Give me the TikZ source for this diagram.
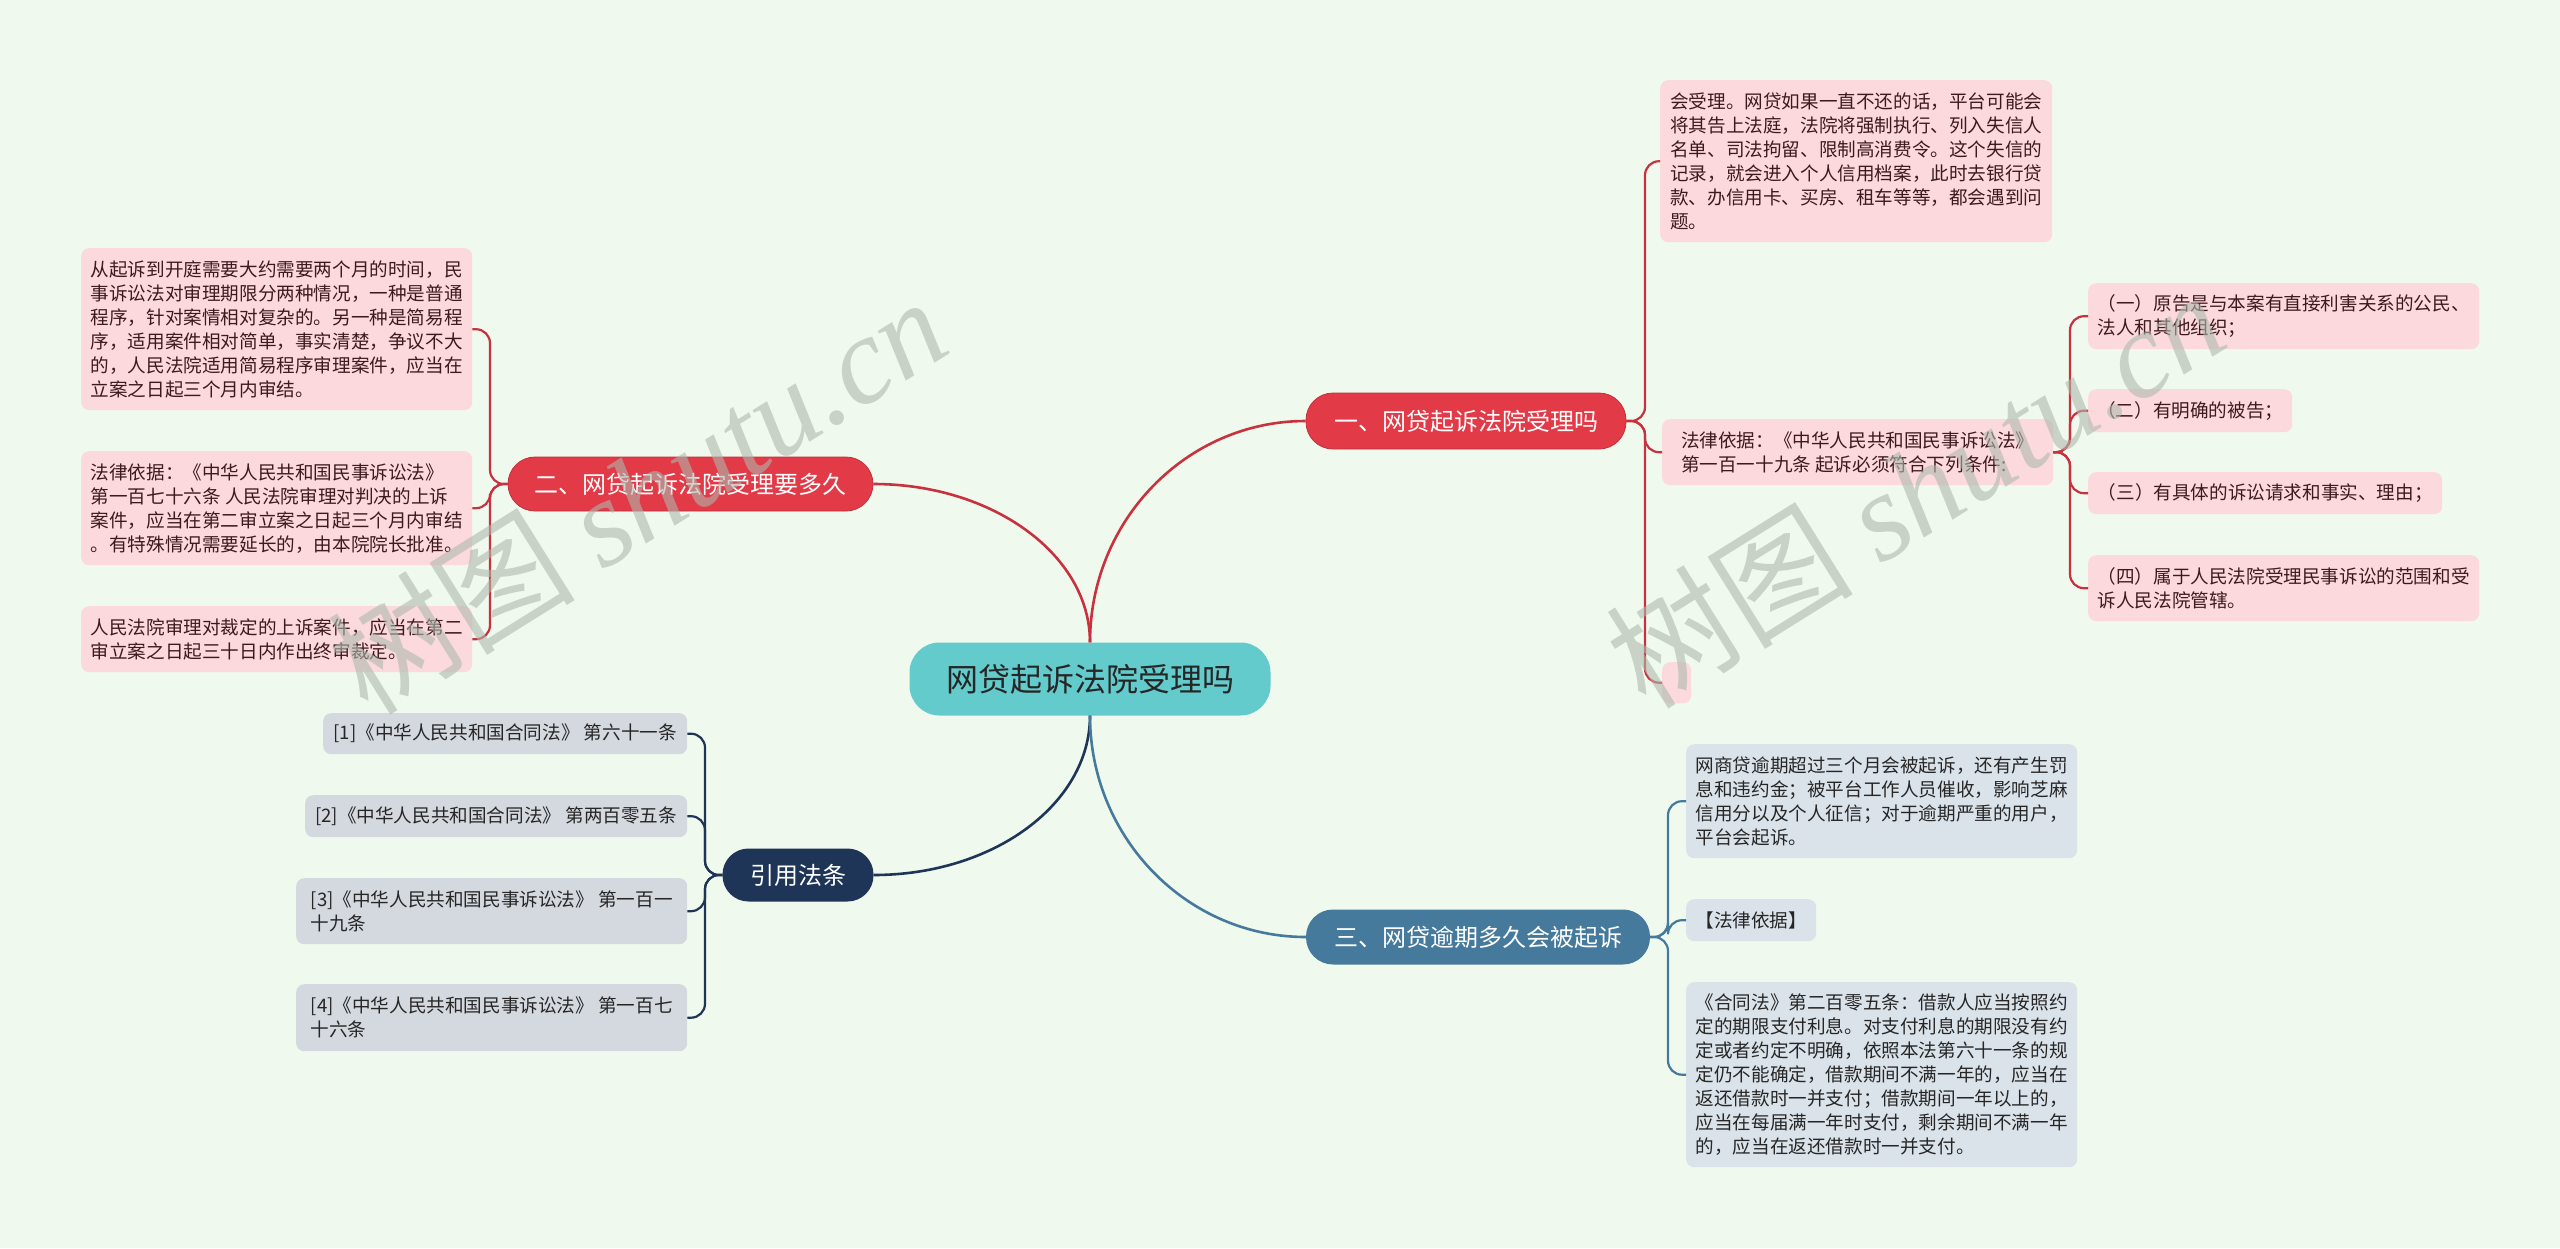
\documentclass[tikz,border=0pt]{standalone}
\usepackage{fontspec}
\setmainfont{Noto Sans CJK SC}
\newfontfamily\wmserif{Liberation Serif}
\usetikzlibrary{calc}
\definecolor{bgc}{HTML}{F0F9EE}
\definecolor{pinkfill}{HTML}{FBD9DD}
\definecolor{pinktext}{HTML}{3F1A1D}
\definecolor{redpill}{HTML}{E23A47}
\definecolor{redline}{HTML}{C8323E}
\definecolor{navyc}{HTML}{1E3557}
\definecolor{steelc}{HTML}{457A9C}
\definecolor{tealc}{HTML}{63CBCB}
\definecolor{grayfill}{HTML}{D4D8DF}
\definecolor{bluegrayfill}{HTML}{DBE3EA}
\definecolor{darktext}{HTML}{262626}
\definecolor{wmc}{HTML}{AEB8AE}
\tikzset{
  leafbox/.style={rectangle, rounded corners=8pt, inner sep=0pt, align=left,
    anchor=north west, font=\fontsize{18.6}{24}\selectfont},
  pinkleaf/.style={leafbox, fill=pinkfill, text=pinktext},
  grayleaf/.style={leafbox, fill=grayfill, text=darktext},
  blueleaf/.style={leafbox, fill=bluegrayfill, text=darktext},
  pillbox/.style={rectangle, inner sep=0pt, text=white, font=\fontsize{24}{28}\selectfont},
  redbranch/.style={pillbox, fill=redpill, draw=redpill!85!black, line width=0.8pt, rounded corners=27pt},
  navybranch/.style={pillbox, fill=navyc, rounded corners=26pt},
  steelbranch/.style={pillbox, fill=steelc, rounded corners=27pt},
  mainline/.style={line width=2.6pt},
  subline/.style={line width=2.2pt, rounded corners=14pt},
  watermark/.style={rotate=32, anchor=base west, text=wmc, opacity=0.6, inner sep=0pt,
    font=\fontsize{124}{124}\selectfont}
}
\begin{document}
\begin{tikzpicture}[x=1pt,y=-1pt]
\useasboundingbox (0,0) rectangle (2560,1248);
\fill[bgc] (0,0) rectangle (2560,1248);

% root
\node[rectangle, fill=tealc, rounded corners=30pt, minimum width=361pt, minimum height=73pt,
  inner sep=0pt, text=darktext, font=\fontsize{32}{36}\selectfont] (root) at (1090,679) {网贷起诉法院受理吗};

% branches
\node[redbranch, minimum width=320pt, minimum height=56pt] (b1) at (1466,421) {一、网贷起诉法院受理吗};
\node[redbranch, minimum width=365pt, minimum height=54pt] (b2) at (690.5,484) {二、网贷起诉法院受理要多久};
\node[navybranch, minimum width=151pt, minimum height=53pt] (cite) at (798,875) {引用法条};
\node[steelbranch, minimum width=344pt, minimum height=55pt] (b3) at (1478,937) {三、网贷逾期多久会被起诉};

% branch 1 leaves
\node[pinkleaf, minimum width=392pt, minimum height=162pt] (c1a) at (1660,80) {会受理。网贷如果一直不还的话，平台可能会\\将其告上法庭，法院将强制执行、列入失信人\\名单、司法拘留、限制高消费令。这个失信的\\记录，就会进入个人信用档案，此时去银行贷\\款、办信用卡、买房、租车等等，都会遇到问\\题。};
\node[pinkleaf, minimum width=391pt, minimum height=66pt] (c1b) at (1662,419) {法律依据：《中华人民共和国民事诉讼法》\\第一百一十九条 起诉必须符合下列条件:};
\node[pinkleaf, minimum width=29pt, minimum height=41pt] (c1c) at (1662,662) {};
\node[pinkleaf, minimum width=391pt, minimum height=66pt] (d1) at (2088,283) {（一）原告是与本案有直接利害关系的公民、\\法人和其他组织；};
\node[pinkleaf, minimum width=204pt, minimum height=43pt] (d2) at (2088,389) {（二）有明确的被告；};
\node[pinkleaf, minimum width=354pt, minimum height=42pt] (d3) at (2088,472) {（三）有具体的诉讼请求和事实、理由；};
\node[pinkleaf, minimum width=391pt, minimum height=66pt] (d4) at (2088,555) {（四）属于人民法院受理民事诉讼的范围和受\\诉人民法院管辖。};

% branch 2 leaves
\node[pinkleaf, minimum width=391pt, minimum height=162pt] (c2a) at (81,248) {从起诉到开庭需要大约需要两个月的时间，民\\事诉讼法对审理期限分两种情况，一种是普通\\程序，针对案情相对复杂的。另一种是简易程\\序，适用案件相对简单，事实清楚，争议不大\\的，人民法院适用简易程序审理案件，应当在\\立案之日起三个月内审结。};
\node[pinkleaf, minimum width=391pt, minimum height=114pt] (c2b) at (81,451) {法律依据：《中华人民共和国民事诉讼法》\\第一百七十六条 人民法院审理对判决的上诉\\案件，应当在第二审立案之日起三个月内审结\\。有特殊情况需要延长的，由本院院长批准。};
\node[pinkleaf, minimum width=391pt, minimum height=66pt] (c2c) at (81,606) {人民法院审理对裁定的上诉案件，应当在第二\\审立案之日起三十日内作出终审裁定。};

% citation leaves
\node[grayleaf, minimum width=364pt, minimum height=41pt] (r1) at (323,713) {[1]《中华人民共和国合同法》 第六十一条};
\node[grayleaf, minimum width=382pt, minimum height=42pt] (r2) at (305,795) {[2]《中华人民共和国合同法》 第两百零五条};
\node[grayleaf, minimum width=391pt, minimum height=66pt] (r3) at (296,878) {[3]《中华人民共和国民事诉讼法》 第一百一\\十九条};
\node[grayleaf, minimum width=391pt, minimum height=67pt] (r4) at (296,984) {[4]《中华人民共和国民事诉讼法》 第一百七\\十六条};

% branch 3 leaves
\node[blueleaf, minimum width=391pt, minimum height=114pt] (c3a) at (1686,744) {网商贷逾期超过三个月会被起诉，还有产生罚\\息和违约金；被平台工作人员催收，影响芝麻\\信用分以及个人征信；对于逾期严重的用户，\\平台会起诉。};
\node[blueleaf, minimum width=130pt, minimum height=42pt] (c3b) at (1686,899) {【法律依据】};
\node[blueleaf, minimum width=391pt, minimum height=185pt] (c3c) at (1686,982) {《合同法》第二百零五条：借款人应当按照约\\定的期限支付利息。对支付利息的期限没有约\\定或者约定不明确，依照本法第六十一条的规\\定仍不能确定，借款期间不满一年的，应当在\\返还借款时一并支付；借款期间一年以上的，\\应当在每届满一年时支付，剩余期间不满一年\\的，应当在返还借款时一并支付。};

% main connectors
\draw[mainline, redline] (root.north) .. controls +(0,-122) and +(-119,0) .. (b1.west);
\draw[mainline, redline] (root.north) .. controls +(0,-87) and +(120,0) .. (b2.east);
\draw[mainline, navyc] (root.south) .. controls +(0,88) and +(120,0) .. (cite.east);
\draw[mainline, steelc] (root.south) .. controls +(0,122) and +(-119,0) .. (b3.west);

% junctions
\coordinate (j1) at (1645,421);
\coordinate (j2) at (490,484);
\coordinate (j3) at (705,875);
\coordinate (j4) at (1668,937);
\coordinate (j5) at (2070,452);

\foreach \c in {c1a,c1b,c1c} \draw[subline, redline] (b1.east) -- (j1) |- (\c.west);
\foreach \c in {d1,d2,d3,d4} \draw[subline, redline] (c1b.east) -- (j5) |- (\c.west);
\foreach \c in {c2a,c2b,c2c} \draw[subline, redline] (b2.west) -- (j2) |- (\c.east);
\foreach \c in {r1,r2,r3,r4} \draw[subline, navyc] (cite.west) -- (j3) |- (\c.east);
\foreach \c in {c3a,c3b,c3c} \draw[subline, steelc] (b3.east) -- (j4) |- (\c.west);

% watermarks
\node[watermark] (wm1) at (368,718) {树图 {\wmserif\itshape shutu.cn}};
\node[watermark] (wm2) at (1646,712) {树图 {\wmserif\itshape shutu.cn}};
\end{tikzpicture}
\end{document}
